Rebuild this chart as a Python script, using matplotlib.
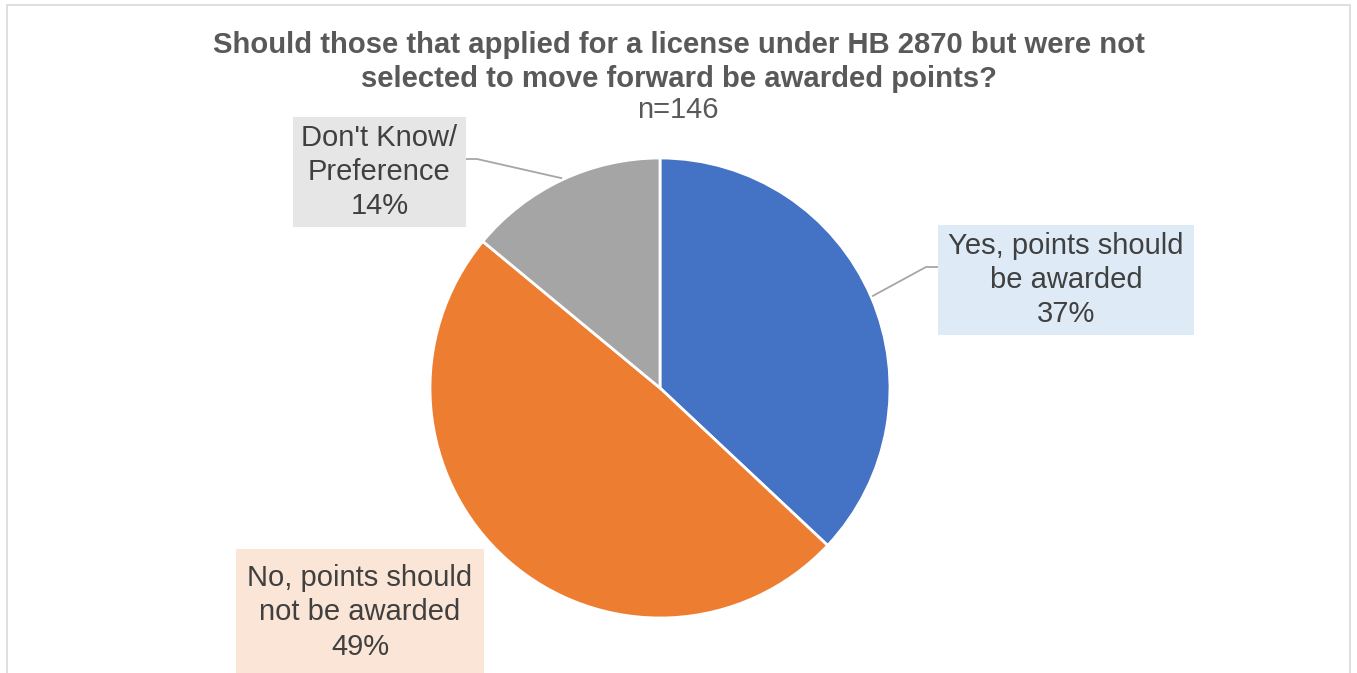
import numpy as np
import matplotlib.pyplot as plt
from matplotlib.patches import Rectangle

labels = ["Yes, points should\nbe awarded", "No, points should\nnot be awarded", "Don't Know/\nPreference"]
shares = [37, 49, 14]
colors = ["#4472C4", "#ED7D31", "#A5A5A5"]
box_colors = ["#DEEBF7", "#FBE5D6", "#E6E6E6"]
title = "Should those that applied for a license under HB 2870 but were not\nselected to move forward be awarded points?"
subtitle = "n=146"

W, H = 1357, 673
plt.rcParams['font.family'] = ['Liberation Sans', 'DejaVu Sans']

fig = plt.figure(figsize=(W / 100, H / 100), dpi=100)
ax = fig.add_axes([0, 0, 1, 1])

def up(y):
    # flip top-down pixel rows into axis coords
    return H - y

cx, cy, r = 660, up(388), 230
wedges, _ = ax.pie(shares, colors=colors, startangle=90, counterclock=False,
                   center=(cx, cy), radius=r,
                   wedgeprops=dict(edgecolor="white", linewidth=2))

ax.set_xlim(0, W)
ax.set_ylim(0, H)
ax.set_aspect('equal')
ax.axis('off')

# outer chart frame
ax.add_patch(Rectangle((7, -10), 1343, up(5) + 10, fill=False,
                       edgecolor="#D9D9D9", linewidth=1.2))

ax.text(679, up(62), title, ha="center", va="center", fontsize=21.1,
        fontweight="bold", color="#595959", linespacing=1.28)
ax.text(678, up(110), subtitle, ha="center", va="center", fontsize=21,
        color="#595959")

# label boxes: (left, top, right, bottom) and leader anchor on the box
boxes = [(938, 225, 1194, 335), (236, 549, 484, 676), (293, 117, 466, 227)]
anchors = [((938, 267), (926, 267)), None, ((466, 159), (477, 159))]

for w, lab, val, bc, (x0, y0, x1, y1), anc in zip(wedges, labels, shares, box_colors, boxes, anchors):
    ax.add_patch(Rectangle((x0, up(y1)), x1 - x0, y1 - y0, facecolor=bc,
                           edgecolor="none", zorder=3))
    ax.text((x0 + x1) / 2, up((y0 + y1) / 2), f"{lab}\n{val}%", ha="center",
            va="center", fontsize=21, color="#404040", linespacing=1.28, zorder=4)
    if anc is not None:
        mid = np.deg2rad((w.theta1 + w.theta2) / 2)
        ex, ey = cx + (r + 2) * np.cos(mid), cy + (r + 2) * np.sin(mid)
        (bx, by), (kx, ky) = anc
        ax.plot([bx, kx, ex], [up(by), up(ky), ey], color="#A6A6A6",
                linewidth=1.3, zorder=2)

fig.savefig("out.png", dpi=100)
